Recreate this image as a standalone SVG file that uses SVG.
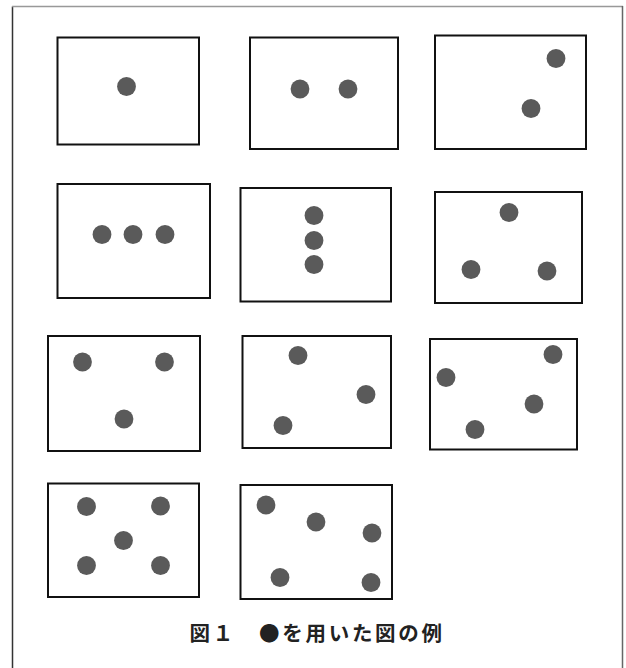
<svg xmlns="http://www.w3.org/2000/svg" width="626" height="668" viewBox="0 0 626 668">
<style>
.box{fill:#fff;stroke:#111;stroke-width:2}
.dot{fill:#5a5a5a}
.cap{font-family:"Noto Sans CJK JP","Noto Sans CJK SC",sans-serif;font-weight:bold;font-size:20.5px;letter-spacing:2.7px;fill:#222}
</style>
<rect width="626" height="668" fill="#fff"/>
<g id="frame" fill="none">
<line x1="12.5" y1="6.5" x2="12.5" y2="668" stroke="#333" stroke-width="1.5"/>
<line x1="12" y1="6.5" x2="623" y2="6.5" stroke="#999" stroke-width="1.5"/>
<line x1="622.5" y1="6" x2="622.5" y2="668" stroke="#666" stroke-width="1.5"/>
</g>
<g id="connectors"/>
<g id="fig1">
<rect class="box" x="57.5" y="37.5" width="141.5" height="107"/>
<circle class="dot" cx="126.5" cy="86.5" r="9.4"/>
</g>
<g id="fig2">
<rect class="box" x="250" y="37.5" width="148" height="111.5"/>
<circle class="dot" cx="300" cy="89" r="9.4"/>
<circle class="dot" cx="348" cy="89" r="9.4"/>
</g>
<g id="fig3">
<rect class="box" x="435" y="35.5" width="151" height="113.5"/>
<circle class="dot" cx="556" cy="58.5" r="9.4"/>
<circle class="dot" cx="531" cy="108.5" r="9.4"/>
</g>
<g id="fig4">
<rect class="box" x="57.5" y="184" width="152.5" height="114"/>
<circle class="dot" cx="102" cy="234.5" r="9.4"/>
<circle class="dot" cx="133" cy="234.5" r="9.4"/>
<circle class="dot" cx="165" cy="234.5" r="9.4"/>
</g>
<g id="fig5">
<rect class="box" x="240.5" y="188" width="150.5" height="113.5"/>
<circle class="dot" cx="314" cy="215.5" r="9.4"/>
<circle class="dot" cx="314" cy="240.5" r="9.4"/>
<circle class="dot" cx="314" cy="264.5" r="9.4"/>
</g>
<g id="fig6">
<rect class="box" x="435" y="192" width="147" height="111"/>
<circle class="dot" cx="509" cy="212.5" r="9.4"/>
<circle class="dot" cx="471" cy="269.5" r="9.4"/>
<circle class="dot" cx="547" cy="271" r="9.4"/>
</g>
<g id="fig7">
<rect class="box" x="48" y="336" width="152" height="115"/>
<circle class="dot" cx="82.5" cy="362" r="9.4"/>
<circle class="dot" cx="164.5" cy="362" r="9.4"/>
<circle class="dot" cx="124" cy="419" r="9.4"/>
</g>
<g id="fig8">
<rect class="box" x="242.5" y="336" width="148.5" height="112"/>
<circle class="dot" cx="298" cy="355.5" r="9.4"/>
<circle class="dot" cx="366" cy="394.5" r="9.4"/>
<circle class="dot" cx="283" cy="425.5" r="9.4"/>
</g>
<g id="fig9">
<rect class="box" x="430" y="339" width="147" height="110.5"/>
<circle class="dot" cx="553" cy="354.5" r="9.4"/>
<circle class="dot" cx="446" cy="377.5" r="9.4"/>
<circle class="dot" cx="534" cy="404" r="9.4"/>
<circle class="dot" cx="475" cy="429.5" r="9.4"/>
</g>
<g id="fig10">
<rect class="box" x="48" y="483.5" width="151" height="113.5"/>
<circle class="dot" cx="86.5" cy="506.5" r="9.4"/>
<circle class="dot" cx="160.5" cy="506" r="9.4"/>
<circle class="dot" cx="123.5" cy="540.5" r="9.4"/>
<circle class="dot" cx="86.5" cy="565.5" r="9.4"/>
<circle class="dot" cx="160.5" cy="565.5" r="9.4"/>
</g>
<g id="fig11">
<rect class="box" x="240.5" y="485" width="151.5" height="114"/>
<circle class="dot" cx="266" cy="505" r="9.4"/>
<circle class="dot" cx="316" cy="522" r="9.4"/>
<circle class="dot" cx="372" cy="533" r="9.4"/>
<circle class="dot" cx="280" cy="577.5" r="9.4"/>
<circle class="dot" cx="371" cy="582.5" r="9.4"/>
</g>
<g id="caption">
<text class="cap" x="189.5" y="640.5">図１　●を用いた図の例</text>
</g>
</svg>
